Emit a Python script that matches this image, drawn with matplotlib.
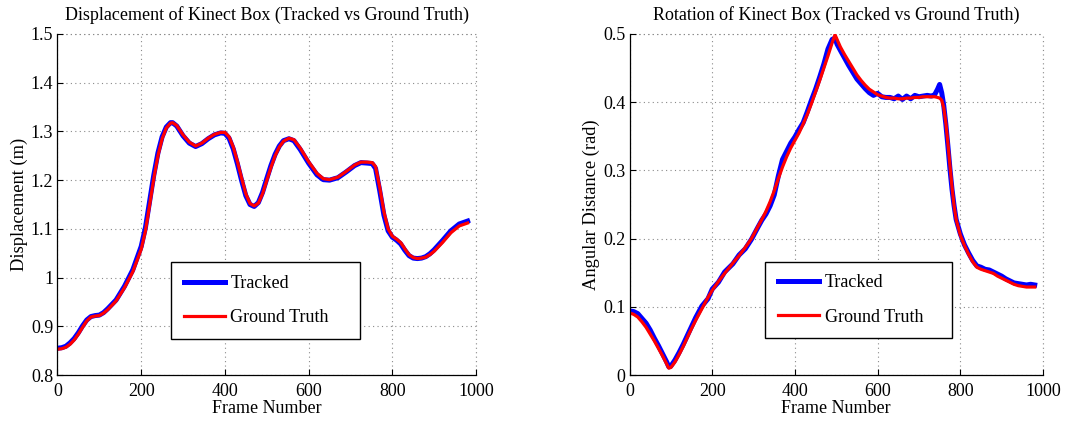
import matplotlib
matplotlib.use("Agg")
import matplotlib.pyplot as plt

# Displacement of the box (m)
disp_frames = [0, 10, 20, 30, 40, 50, 60, 70, 80, 90, 100, 110, 120, 140, 160, 180, 200,
               210, 220, 230, 240, 250, 260, 270, 275, 285, 300, 315, 330, 345, 360, 375,
               390, 400, 410, 420, 430, 440, 450, 460, 470, 480, 490, 500, 510, 520, 530,
               540, 553, 565, 580, 600, 620, 635, 650, 670, 690, 710, 725, 740, 752, 760,
               770, 780, 790, 800, 810, 820, 830, 840, 850, 860, 870, 880, 890, 900, 920,
               940, 960, 980]
disp_truth = [0.853, 0.854, 0.857, 0.863, 0.872, 0.884, 0.898, 0.911, 0.919, 0.921, 0.922,
              0.927, 0.934, 0.952, 0.979, 1.012, 1.058, 1.095, 1.148, 1.203, 1.250, 1.285,
              1.307, 1.317, 1.318, 1.312, 1.293, 1.278, 1.270, 1.276, 1.286, 1.294, 1.298,
              1.298, 1.289, 1.268, 1.238, 1.204, 1.172, 1.152, 1.147, 1.153, 1.172, 1.199,
              1.226, 1.250, 1.268, 1.280, 1.286, 1.283, 1.266, 1.238, 1.214, 1.203, 1.201,
              1.206, 1.218, 1.231, 1.237, 1.237, 1.236, 1.228, 1.185, 1.135, 1.100, 1.085,
              1.079, 1.072, 1.059, 1.047, 1.041, 1.039, 1.040, 1.042, 1.047, 1.054, 1.072,
              1.092, 1.106, 1.112]
disp_tracked = [0.855, 0.856, 0.859, 0.866, 0.875, 0.887, 0.901, 0.913, 0.920, 0.922, 0.923,
                0.928, 0.936, 0.954, 0.982, 1.016, 1.064, 1.102, 1.156, 1.210, 1.256, 1.289,
                1.309, 1.318, 1.318, 1.311, 1.291, 1.276, 1.269, 1.275, 1.285, 1.293, 1.297,
                1.296, 1.286, 1.264, 1.233, 1.199, 1.168, 1.150, 1.146, 1.154, 1.175, 1.203,
                1.230, 1.253, 1.270, 1.281, 1.285, 1.281, 1.263, 1.235, 1.211, 1.201, 1.200,
                1.205, 1.217, 1.230, 1.236, 1.235, 1.234, 1.224, 1.178, 1.128, 1.096, 1.083,
                1.077, 1.069, 1.056, 1.045, 1.040, 1.039, 1.040, 1.043, 1.049, 1.057, 1.076,
                1.096, 1.110, 1.116]

# Rotation of the box (rad)
rot_frames = [0, 10, 20, 30, 40, 50, 60, 70, 80, 90, 95, 100, 110, 120, 130, 140, 150, 160,
              175, 190, 200, 215, 230, 250, 265, 280, 295, 310, 320, 330, 340, 350, 360,
              370, 380, 390, 400, 410, 420, 430, 440, 450, 460, 470, 480, 490, 497, 502,
              510, 520, 530, 540, 550, 560, 570, 580, 590, 600, 610, 620, 630, 640, 650,
              660, 670, 680, 690, 700, 710, 720, 730, 738, 745, 750, 755, 760, 765, 770,
              775, 780, 785, 790, 800, 810, 820, 830, 840, 850, 860, 870, 880, 890, 900,
              910, 920, 930, 940, 950, 960, 970, 980]
rot_truth = [0.091, 0.089, 0.085, 0.078, 0.070, 0.060, 0.050, 0.039, 0.028, 0.016, 0.010,
             0.011, 0.019, 0.030, 0.042, 0.055, 0.068, 0.080, 0.097, 0.114, 0.124, 0.137,
             0.149, 0.164, 0.175, 0.187, 0.200, 0.217, 0.228, 0.240, 0.254, 0.270, 0.288,
             0.305, 0.320, 0.333, 0.344, 0.355, 0.368, 0.382, 0.398, 0.415, 0.432, 0.450,
             0.468, 0.487, 0.499, 0.492, 0.481, 0.470, 0.460, 0.450, 0.440, 0.432, 0.425,
             0.419, 0.415, 0.411, 0.409, 0.407, 0.406, 0.406, 0.405, 0.405, 0.406, 0.406,
             0.407, 0.407, 0.408, 0.408, 0.408, 0.408, 0.407, 0.406, 0.403, 0.392, 0.370,
             0.340, 0.307, 0.275, 0.248, 0.228, 0.205, 0.190, 0.177, 0.166, 0.158, 0.155,
             0.153, 0.151, 0.149, 0.145, 0.142, 0.139, 0.136, 0.133, 0.131, 0.130, 0.129,
             0.129, 0.129]
rot_tracked = [0.094, 0.093, 0.090, 0.083, 0.076, 0.066, 0.054, 0.043, 0.031, 0.019, 0.012,
               0.013, 0.022, 0.033, 0.045, 0.058, 0.071, 0.084, 0.101, 0.112, 0.126, 0.136,
               0.151, 0.163, 0.176, 0.185, 0.199, 0.216, 0.227, 0.236, 0.248, 0.264, 0.292,
               0.316, 0.328, 0.340, 0.349, 0.360, 0.370, 0.386, 0.403, 0.419, 0.437, 0.456,
               0.478, 0.492, 0.494, 0.485, 0.476, 0.465, 0.454, 0.444, 0.434, 0.427, 0.420,
               0.414, 0.410, 0.413, 0.408, 0.407, 0.407, 0.405, 0.409, 0.404, 0.409, 0.405,
               0.410, 0.408, 0.409, 0.410, 0.409, 0.411, 0.419, 0.426, 0.414, 0.395, 0.368,
               0.336, 0.302, 0.272, 0.248, 0.228, 0.207, 0.191, 0.179, 0.168, 0.160, 0.158,
               0.155, 0.154, 0.151, 0.148, 0.145, 0.141, 0.138, 0.135, 0.134, 0.133, 0.132,
               0.133, 0.132]

labels = ["Tracked", "Ground Truth"]
titles = ["Displacement of Kinect Box (Tracked vs Ground Truth)",
          "Rotation of Kinect Box (Tracked vs Ground Truth)"]
ylabels = ["Displacement (m)", "Angular Distance (rad)"]
xlabel = "Frame Number"

plt.rcParams["font.family"] = ["Liberation Serif", "DejaVu Serif"]

fig = plt.figure(figsize=(10.86, 4.21), dpi=100)
W, H = 1086.0, 421.0
ax1 = fig.add_axes([57.5 / W, 46 / H, 418.5 / W, 341 / H])
ax2 = fig.add_axes([629.5 / W, 46 / H, 413.5 / W, 341 / H])

GRID = dict(color="#8a8a8a", linestyle=(0, (1, 3)), linewidth=0.8)


def style(ax, ylim, yticks, ytlabels, title, ylabel):
    ax.set_xlim(0, 1000)
    ax.set_ylim(*ylim)
    ax.set_xticks([0, 200, 400, 600, 800, 1000])
    ax.set_yticks(yticks)
    ax.set_yticklabels(ytlabels)
    ax.tick_params(direction="in", length=4, width=0.8, labelsize=13,
                   top=False, right=False)
    ax.tick_params(axis="x", pad=6)
    ax.tick_params(axis="y", pad=3)
    for s in ("top", "right"):
        ax.spines[s].set_visible(False)
    for s in ("left", "bottom"):
        ax.spines[s].set_linewidth(0.9)
    ax.grid(True, **GRID)
    ax.set_axisbelow(True)
    # dotted lines along the upper and right bounds
    ax.axhline(ylim[1], zorder=0.5, clip_on=False, **GRID)
    ax.axvline(1000, zorder=0.5, clip_on=False, **GRID)
    ax.set_title(title, fontsize=13, pad=10)
    ax.set_xlabel(xlabel, fontsize=13, labelpad=0)
    ax.set_ylabel(ylabel, fontsize=13.3, labelpad=2)


def legend(ax, x0, y0, w, h):
    leg = ax.legend(loc="lower left", bbox_to_anchor=(x0, y0, w, h), mode="expand",
                    fontsize=13, frameon=True, fancybox=False, framealpha=1,
                    edgecolor="black", handlelength=2.3, handletextpad=0.3,
                    labelspacing=0.95, borderpad=0.7, borderaxespad=0)
    leg.get_frame().set_linewidth(1.0)


ax1.plot(disp_frames, disp_tracked, color="#0000ff", lw=3.6, label=labels[0])
ax1.plot(disp_frames, disp_truth, color="#ff0000", lw=2.3, label=labels[1])
style(ax1, (0.8, 1.5), [0.8, 0.9, 1.0, 1.1, 1.2, 1.3, 1.4, 1.5],
      ["0.8", "0.9", "1", "1.1", "1.2", "1.3", "1.4", "1.5"], titles[0], ylabels[0])
legend(ax1, 0.271, 0.106, 0.452, 0.217)

ax2.plot(rot_frames, rot_tracked, color="#0000ff", lw=3.6, label=labels[0])
ax2.plot(rot_frames, rot_truth, color="#ff0000", lw=2.3, label=labels[1])
style(ax2, (0, 0.5), [0, 0.1, 0.2, 0.3, 0.4, 0.5],
      ["0", "0.1", "0.2", "0.3", "0.4", "0.5"], titles[1], ylabels[1])
legend(ax2, 0.328, 0.108, 0.452, 0.218)

fig.savefig("out.png", dpi=100)
